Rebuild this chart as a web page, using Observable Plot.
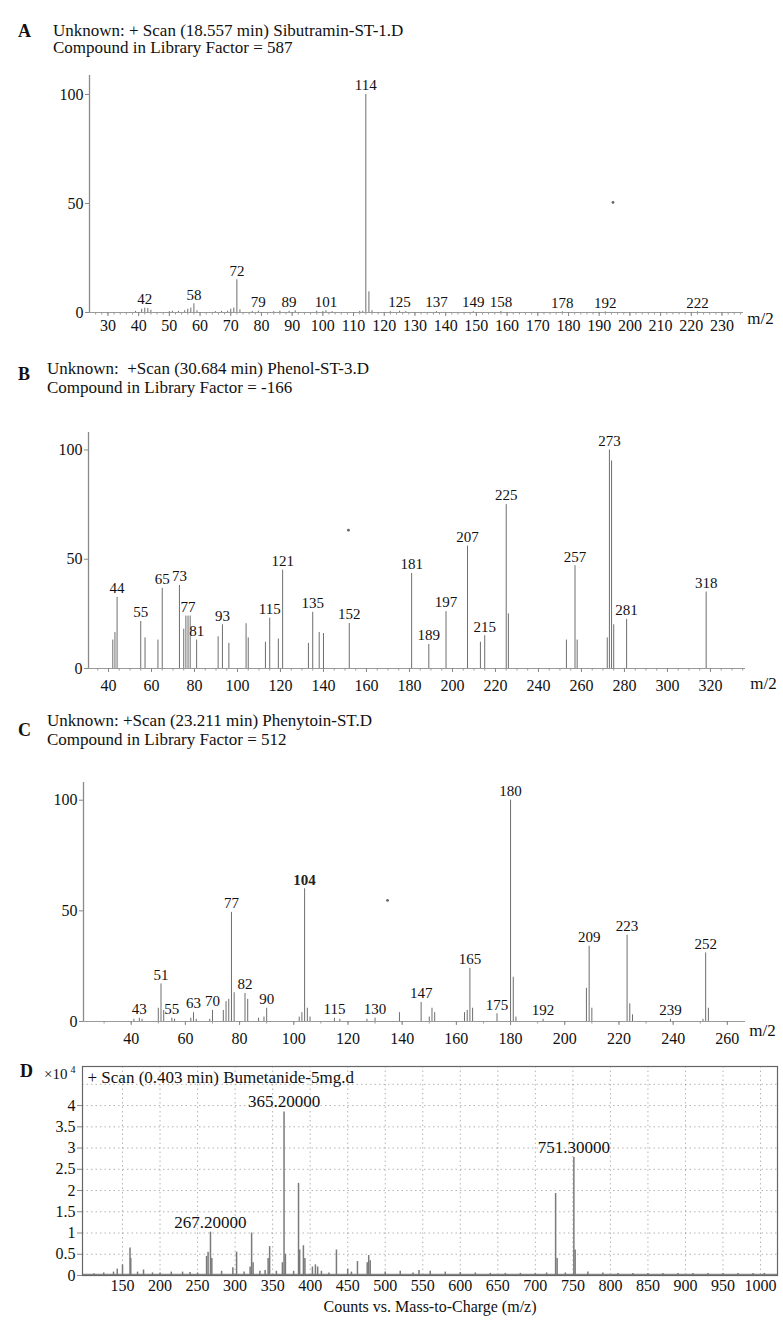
<!DOCTYPE html>
<html><head><meta charset="utf-8">
<script src="https://cdn.jsdelivr.net/npm/d3@7"></script>
<script src="https://cdn.jsdelivr.net/npm/@observablehq/plot@0.6"></script>
<style>
body{margin:0;background:#fff;font-family:"Liberation Serif",serif;color:#111;}
#wrap{position:relative;width:783px;height:1321px;overflow:hidden;background:#fff;}
.abs{position:absolute;white-space:pre;}
.let{font-weight:bold;font-size:18px;line-height:18px;}
.ttl{font-size:17px;}
svg{position:absolute;left:0;}
</style></head><body><div id="wrap"></div>
<script>
// ---------- Panel A: Sibutramin ----------
const aTitle = ["Unknown: + Scan (18.557 min) Sibutramin-ST-1.D", "Compound in Library Factor = 587"];
const aMz  = [39,41,42,43,44,50,51,53,55,56,57,58,59,65,67,69,70,71,72,73,77,79,84,86,89,91,98,100,101,103,112,113,114,115,116,122,125,127,137,149,158,178,192,222];
const aInt = [0.5,1.5,2,1.8,1,0.4,0.6,0.5,0.8,1.5,2,4,0.8,0.4,0.5,0.6,1.5,2,15,1.2,0.5,0.6,0.4,0.6,0.6,0.8,0.6,0.5,0.8,0.4,0.5,0.6,100,9.5,0.8,0.4,0.6,0.4,0.4,0.4,0.5,0.3,0.3,0.3];
const aLabels = [42,58,72,79,89,101,114,125,137,149,158,178,192,222];
const aStar = [[194.5, 50.5]];
const aXTicks = d3.range(30, 231, 10);
const aYTicks = [0, 50, 100];

// ---------- Panel B: Phenol ----------
const bTitle = ["Unknown:  +Scan (30.684 min) Phenol-ST-3.D", "Compound in Library Factor = -166"];
const bMz  = [42,43,44,55,57,63,65,73,75,76,77,78,81,91,93,96,104,105,113,115,119,121,133,135,138,140,152,181,189,197,207,213,215,225,226,253,257,258,272,273,274,275,281,318];
const bInt = [13,16.5,32.6,21.5,14,13,36.7,38,18,24,24,24,13,14.5,20,11.5,20.5,14,12,23,13.5,45,11.5,25.7,16.5,16,20.6,43.5,11,26,56,12,15,75,25,13,47,13,14,100,95,20,22.5,35];
const bLabels = [44,55,65,73,77,81,93,115,121,135,152,181,189,197,207,215,225,257,273,281,318];
const bStar = [[151.6, 63.3]];
const bXTicks = d3.range(40, 321, 20);
const bYTicks = [0, 50, 100];

// ---------- Panel C: Phenytoin ----------
const cTitle = ["Unknown: +Scan (23.211 min) Phenytoin-ST.D", "Compound in Library Factor = 512"];
const cMz  = [41,43,44,50,51,52,55,56,62,63,64,69,70,74,75,76,77,78,82,83,87,89,90,102,103,104,105,106,115,117,127,130,139,147,150,151,152,163,164,165,166,175,180,181,182,192,208,209,210,223,224,225,239,251,252,253];
const cInt = [1,1.5,1,6,17,5,1.5,1,1.5,4,1,1,5,5,9,10,49.3,13,12.7,10,1.5,2,6,2,4,60,6,2,1.5,1,1,1.5,4,8.6,2,6,4,4,5,24,6,3.5,100,20,2,1,15,34,6,39,8,3,1,1,31,6];
const cLabels = [43,51,55,63,70,77,82,90,104,115,130,147,165,175,180,192,209,223,239,252];
const cBold = [104];
const cStar = [[134.6, 54.7]];
const cXTicks = d3.range(40, 261, 20);
const cYTicks = [0, 50, 100];

// ---------- Panel D: Bumetanide ----------
const dTitle = "+ Scan (0.403 min) Bumetanide-5mg.d";
const dXLabel = "Counts vs. Mass-to-Charge (m/z)";
const dMz  = [112,125,138,143,150,160,161,170,178,190,200,215,230,240,250,262,264,267.2,269,282,297,302,312,320,322,324,333,340,344,346,355,363,365.2,367,378,384.5,386,391,393,403,407,410,415,425,435,450,455,463,476,478,480,500,520,537,545,560,580,600,620,640,660,680,700,715,727,729,740,751.3,753,770,790,810,830,850,870,890,910,930,950,970,990,1005];
const dInt = [0.04,0.06,0.08,0.15,0.25,0.65,0.4,0.08,0.13,0.06,0.06,0.08,0.08,0.07,0.06,0.45,0.55,1.02,0.4,0.1,0.18,0.55,0.08,0.2,1.0,0.3,0.1,0.12,0.4,0.68,0.1,0.3,3.85,0.5,0.1,2.17,0.6,0.7,0.4,0.2,0.25,0.2,0.1,0.06,0.6,0.15,0.08,0.33,0.3,0.47,0.35,0.08,0.1,0.06,0.12,0.1,0.08,0.07,0.06,0.05,0.05,0.05,0.05,0.06,1.93,0.4,0.06,2.78,0.6,0.08,0.06,0.05,0.05,0.05,0.05,0.05,0.05,0.05,0.05,0.05,0.05,0.05];
const dLabelMz = [267.2, 365.2, 751.3];
const dLabelText = ["267.20000", "365.20000", "751.30000"];
const dXTicks = d3.range(150, 1001, 50);
const dYTicks = d3.range(0, 4.01, 0.5);

// ---------- helpers ----------
const wrap = document.getElementById("wrap");
function addHTML(html, cls, left, top, extra) {
  const d = document.createElement("div");
  d.className = "abs " + cls;
  d.style.left = left + "px"; d.style.top = top + "px";
  if (extra) Object.assign(d.style, extra);
  d.innerHTML = html;
  wrap.appendChild(d);
  return d;
}
function addSVG(svg, top) { svg.style.top = top + "px"; wrap.appendChild(svg); }
const baseStyle = {fontFamily: '"Liberation Serif", serif', fontSize: "16px", color: "#111", background: "transparent", overflow: "visible"};
const plain = d => String(d);

function spectrum(p) {
  const peaks = p.mz.map((m, k) => ({mz: m, i: p.inten[k]}));
  const lookup = new Map(peaks.map(d => [d.mz, d.i]));
  const lab = p.labels.map(m => ({mz: m, i: lookup.get(m), t: String(m)}));
  const bold = p.bold || [];
  return Plot.plot({
    width: 783, height: p.height,
    marginTop: p.mt, marginBottom: p.mb, marginLeft: p.ml, marginRight: p.mr,
    style: baseStyle,
    x: {domain: p.xDomain, label: null},
    y: {domain: p.yDomain, label: null},
    marks: [
      Plot.ruleY([0], {stroke: "#9a9a9a"}),
      Plot.ruleX([p.xDomain[0]], {y1: 0, y2: p.yDomain[1], stroke: "#8a8a8a", strokeWidth: 1.3}),
      Plot.axisX(p.minor, {tickSize: 2.5, tickFormat: () => "", stroke: "#999", label: null}),
      Plot.axisX(p.xTicks, {tickSize: 4, tickPadding: p.tp, stroke: "#888", fontSize: 16, tickFormat: plain, label: null}),
      Plot.axisY(p.yTicks, {tickSize: 4, tickPadding: 2, stroke: "#888", fontSize: 16, tickFormat: plain, label: null}),
      Plot.ruleX(peaks, {x: "mz", y1: 0, y2: "i", stroke: "#6e6e6e", strokeWidth: 1}),
      Plot.text(lab.filter(d => !bold.includes(d.mz)), {x: "mz", y: "i", text: "t", dy: -9, lineAnchor: "middle", fontSize: 15, fill: "#111"}),
      Plot.text(lab.filter(d => bold.includes(d.mz)), {x: "mz", y: "i", text: "t", dy: -9, lineAnchor: "middle", fontSize: 15, fontWeight: "bold", fill: "#222"}),
      Plot.dot(p.star, {x: d => d[0], y: d => d[1], r: 1.4, fill: "#666", stroke: null}),
      Plot.text(["m/2"], {text: d => d, frameAnchor: "bottom-right", dx: p.m2dx, dy: p.m2dy, fontSize: 17, textAnchor: "middle", lineAnchor: "middle"})
    ]
  });
}

// ---------- Panel A ----------
addHTML("A", "let", 18, 22);
addHTML(aTitle.join("\n"), "ttl", 53, 21.5, {lineHeight: "17px"});
addSVG(spectrum({
  mz: aMz, inten: aInt, labels: aLabels, star: aStar,
  xDomain: [24, 237], yDomain: [0, 108.7], xTicks: aXTicks, minor: d3.range(26, 237, 2), yTicks: aYTicks,
  height: 270, mt: 5, mb: 28, ml: 89, mr: 40, tp: 3, m2dx: 17, m2dy: 6
}), 70);

// ---------- Panel B ----------
addHTML("B", "let", 18, 365);
addHTML(bTitle.join("\n"), "ttl", 47, 358.5, {lineHeight: "19px"});
addSVG(spectrum({
  mz: bMz, inten: bInt, labels: bLabels, star: bStar,
  xDomain: [30.7, 336.3], yDomain: [0, 108], xTicks: bXTicks, minor: d3.range(35, 336, 5), yTicks: bYTicks,
  height: 275, mt: 7, mb: 32, ml: 88, mr: 38, tp: 7, m2dx: 18, m2dy: 15
}), 425);

// ---------- Panel C ----------
addHTML("C", "let", 18, 721);
addHTML(cTitle.join("\n"), "ttl", 47, 710.5, {lineHeight: "19px"});
addSVG(spectrum({
  mz: cMz, inten: cInt, labels: cLabels, bold: cBold, star: cStar,
  xDomain: [22.4, 266.7], yDomain: [0, 108], xTicks: cXTicks, minor: d3.range(30, 266, 10), yTicks: cYTicks,
  height: 275, mt: 7, mb: 29, ml: 83, mr: 38, tp: 7, m2dx: 17, m2dy: 9
}), 775);

// ---------- Panel D ----------
addHTML("D", "let", 20, 1062);
addHTML('×10<span style="font-size:10px;position:relative;top:-6px;left:3px">4</span>', "ttl", 44, 1066, {fontSize: "15px"});
(function () {
  const peaks = dMz.map((m, k) => ({mz: m, i: dInt[k]}));
  const lookup = new Map(peaks.map(d => [d.mz, d.i]));
  const lab = dLabelMz.map((m, k) => ({mz: m, i: lookup.get(m), t: dLabelText[k]}));
  const svg = Plot.plot({
    width: 783, height: 261, marginTop: 6, marginBottom: 46, marginLeft: 82, marginRight: 6,
    style: baseStyle,
    x: {domain: [96.7, 1022.6], label: null},
    y: {domain: [0, 4.92], label: null},
    marks: [
      Plot.gridX({ticks: dXTicks, stroke: "#777", strokeOpacity: 0.55, strokeDasharray: "1.5,3"}),
      Plot.gridY({ticks: d3.range(0.5, 4.6, 0.5), stroke: "#777", strokeOpacity: 0.55, strokeDasharray: "1.5,3"}),
      Plot.axisX(dXTicks, {tickSize: 0, tickPadding: 4, fontSize: 16, tickFormat: plain, label: null}),
      Plot.axisY(dYTicks, {tickSize: 5, tickPadding: 2, stroke: "#888", fontSize: 16, tickFormat: plain, label: null}),
      Plot.ruleY([0.02], {stroke: "#888", strokeWidth: 2}),
      Plot.ruleX(peaks, {x: "mz", y1: 0, y2: "i", stroke: "#7a7a7a", strokeWidth: 1.5}),
      Plot.text(lab, {x: "mz", y: "i", text: "t", dy: -10, lineAnchor: "middle", fontSize: 17, fill: "#111"}),
      Plot.text([dTitle], {text: d => d, frameAnchor: "top-left", dx: 5, dy: 11, textAnchor: "start", lineAnchor: "middle", fontSize: 17}),
      Plot.text([dXLabel], {text: d => d, frameAnchor: "bottom", dy: 31, lineAnchor: "middle", fontSize: 16}),
      Plot.frame({stroke: "#666", strokeWidth: 1.2})
    ]
  });
  addSVG(svg, 1060);
})();
</script>
</body></html>
